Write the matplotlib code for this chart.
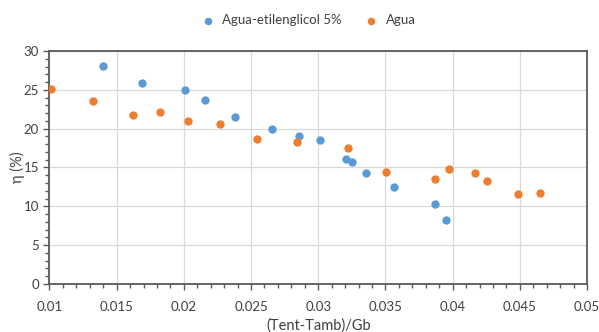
import matplotlib.pyplot as plt
from matplotlib.ticker import MultipleLocator, FuncFormatter

# datos
x_glicol = [0.01395, 0.01692, 0.02012, 0.02156, 0.02381, 0.02655, 0.0286, 0.0301,
            0.03206, 0.03252, 0.03353, 0.03564, 0.03872, 0.0395]
eta_glicol = [28.02, 25.86, 25.0, 23.71, 21.47, 19.91, 19.02, 18.51,
              16.04, 15.70, 14.30, 12.51, 10.26, 8.24]

x_agua = [0.01012, 0.01326, 0.0162, 0.01822, 0.02032, 0.02272, 0.02546, 0.02843,
          0.03221, 0.03503, 0.03872, 0.0397, 0.04167, 0.04256, 0.04484, 0.04648]
eta_agua = [25.13, 23.58, 21.81, 22.16, 20.98, 20.64, 18.64, 18.34,
            17.57, 14.38, 13.57, 14.77, 14.30, 13.23, 11.57, 11.70]

plt.rcParams['font.family'] = ['Lato', 'DejaVu Sans']

fig = plt.figure(figsize=(5.99, 3.32), dpi=100)
ax = fig.add_axes([0.0826, 0.1446, 0.8974, 0.7018])

ax.scatter(x_glicol, eta_glicol, s=36, color='#5b9bd5', label='Agua-etilenglicol 5%', zorder=3, linewidths=0)
ax.scatter(x_agua, eta_agua, s=36, color='#ed7d31', label='Agua', zorder=3, linewidths=0)

ax.set_xlim(0.01, 0.05)
ax.set_ylim(0, 30)
ax.xaxis.set_major_locator(MultipleLocator(0.005))
ax.xaxis.set_minor_locator(MultipleLocator(0.001))
ax.yaxis.set_major_locator(MultipleLocator(5))
ax.yaxis.set_minor_locator(MultipleLocator(1))
ax.xaxis.set_major_formatter(FuncFormatter(lambda v, p: ('%.3f' % v).rstrip('0')))

ax.grid(True, which='major', color='#d9d9d9', linewidth=0.9)
ax.set_axisbelow(True)
for s in ax.spines.values():
    s.set_color('#595959')
    s.set_linewidth(1.3)

ax.tick_params(which='both', direction='out', color='#595959', labelsize=9.5, labelcolor='#404040')
ax.tick_params(which='major', length=4, width=1)
ax.tick_params(which='minor', length=3, width=1)
ax.tick_params(axis='x', pad=8)

ax.set_xlabel('(Tent-Tamb)/Gb', fontsize=10.5, color='#404040', va='center')
ax.set_ylabel('η (%)', fontsize=10.5, color='#404040', va='center')
ax.xaxis.set_label_coords(0.5, -0.18)
ax.yaxis.set_label_coords(-0.06, 0.5)

fig.legend(loc='center', bbox_to_anchor=(305 / 599, 1 - 20 / 332), ncol=2, frameon=False,
           fontsize=9.5, handletextpad=0.1, columnspacing=1.2, markerscale=0.9,
           labelcolor='#404040')

fig.savefig('out.png', dpi=100)
